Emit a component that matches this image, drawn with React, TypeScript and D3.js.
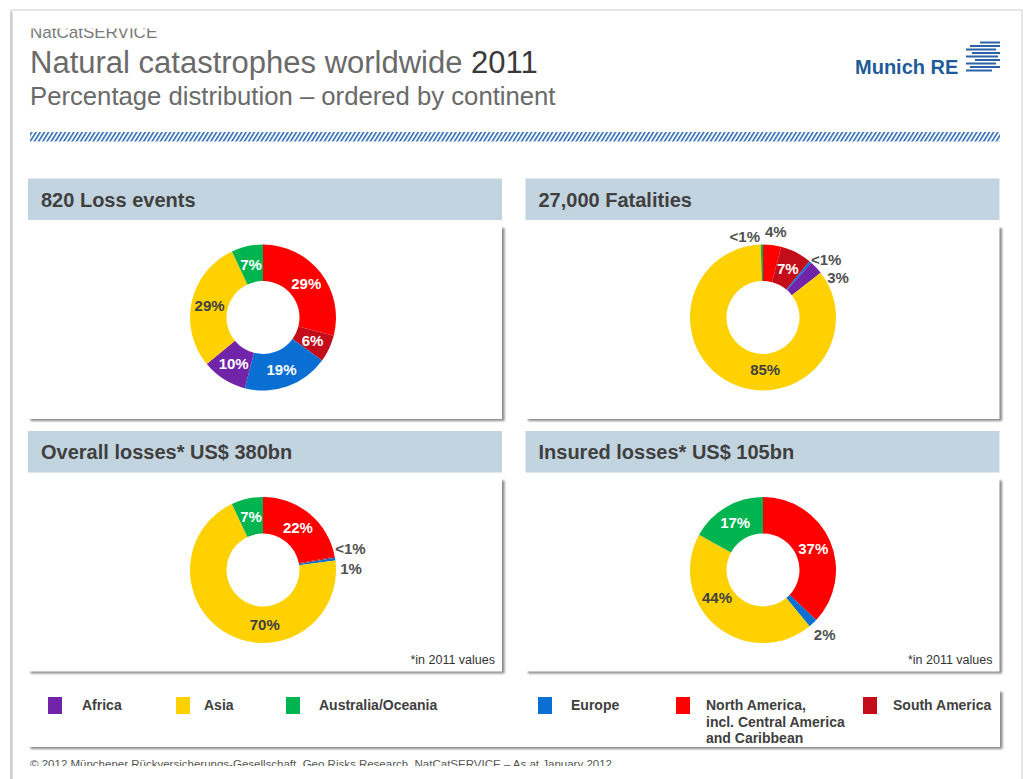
import React from "react";
import * as d3 from "d3";

// ---------- DATA ----------
// Slice order (clockwise from 12 o'clock)
const sliceOrder = ["North America", "South America", "Europe", "Africa", "Asia", "Australia/Oceania"];

const lossEvents = [29, 6, 19, 10, 29, 7];
const lossEventsLabels = ["29%", "6%", "19%", "10%", "29%", "7%"];

const fatalities = [4, 7, 0.5, 3, 85, 0.5];
const fatalitiesLabels = ["4%", "7%", "<1%", "3%", "85%", "<1%"];

const overallLosses = [22, 0.3, 0.6, 0, 70, 7];
const overallLossesLabels = ["22%", "<1%", "1%", "", "70%", "7%"];

const insuredLosses = [37, 0, 2, 0, 44, 17];
const insuredLossesLabels = ["37%", "", "2%", "", "44%", "17%"];

const panelTitles = ["820 Loss events", "27,000 Fatalities", "Overall losses* US$ 380bn", "Insured losses* US$ 105bn"];
const panelNotes = ["", "", "*in 2011 values", "*in 2011 values"];

const legendKeys = ["Africa", "Asia", "Australia/Oceania", "Europe", "North America", "South America"];
const legendLines = [
  ["Africa"],
  ["Asia"],
  ["Australia/Oceania"],
  ["Europe"],
  ["North America,", "incl. Central America", "and Caribbean"],
  ["South America"],
];

// ---------- STYLE / LAYOUT ----------
const W = 1025;
const H = 779;
const FONT = "'Liberation Sans', Arial, Helvetica, sans-serif";

const colors: Record<string, string> = {
  "North America": "#ff0000",
  "South America": "#c40d1a",
  Europe: "#0a6fd2",
  Africa: "#7124a8",
  Asia: "#ffd100",
  "Australia/Oceania": "#00b44f",
};

const panels = [
  { x: 28, y: 178.5, w: 474 },
  { x: 525.5, y: 178.5, w: 474 },
  { x: 28, y: 431, w: 474 },
  { x: 525.5, y: 431, w: 474 },
];
const HEADER_H = 41.5;
const BODY_H = 199;

// label placement overrides: [angleDeg, radius, outside]
type Place = { a: number; r: number; out: boolean };
const placements: Record<number, Record<number, Place>> = {
  1: {
    0: { a: 8.5, r: 87, out: true },
    2: { a: 47.3, r: 86, out: true },
    3: { a: 62, r: 85, out: true },
    4: { a: 177.6, r: 52, out: false },
    5: { a: 347.4, r: 83.5, out: true },
  },
  2: {
    1: { a: 76.1, r: 90, out: true },
    2: { a: 89.3, r: 88, out: true },
    4: { a: 178.2, r: 55, out: false },
  },
  3: {
    2: { a: 136.3, r: 89.3, out: true },
    4: { a: 239.4, r: 53.4, out: false },
  },
};

const datasets = [
  { values: lossEvents, labels: lossEventsLabels },
  { values: fatalities, labels: fatalitiesLabels },
  { values: overallLosses, labels: overallLossesLabels },
  { values: insuredLosses, labels: insuredLossesLabels },
];

const legendLayout = [
  { sx: 48, tx: 82 },
  { sx: 176, tx: 204 },
  { sx: 286, tx: 319 },
  { sx: 538, tx: 571 },
  { sx: 676, tx: 706 },
  { sx: 863, tx: 893 },
];

const INNER = 36.5;
const OUTER = 73;

function Donut({ idx, cx, cy }: { idx: number; cx: number; cy: number }) {
  const { values, labels } = datasets[idx];
  const pie = d3
    .pie<number>()
    .sort(null)
    .value((d) => d);
  const arcs = pie(values);
  const arc = d3.arc<d3.PieArcDatum<number>>().innerRadius(INNER).outerRadius(OUTER);
  const over = placements[idx] || {};
  return (
    <g transform={`translate(${cx},${cy})`}>
      {arcs.map((a, i) =>
        a.value > 0 ? (
          <path key={"s" + i} d={arc(a) || ""} fill={colors[sliceOrder[i]]} />
        ) : null
      )}
      {arcs.map((a, i) => {
        const lab = labels[i];
        if (!lab) return null;
        let x: number, y: number, out = false;
        const p = over[i];
        if (p) {
          const rad = (p.a * Math.PI) / 180;
          x = p.r * Math.sin(rad);
          y = -p.r * Math.cos(rad);
          out = p.out;
        } else {
          [x, y] = arc.centroid(a);
        }
        const fill = out ? "#505050" : sliceOrder[i] === "Asia" ? "#404040" : "#ffffff";
        return (
          <text
            key={"l" + i}
            x={x}
            y={y}
            textAnchor="middle"
            dominantBaseline="central"
            fontFamily={FONT}
            fontWeight="bold"
            fontSize={15}
            fill={fill}
          >
            {lab}
          </text>
        );
      })}
    </g>
  );
}

function Logo() {
  const stripes = [
    [980, 1000, 42.5],
    [970, 1000, 46],
    [966, 996, 49.5],
    [972, 1000, 53],
    [966, 998, 56.5],
    [975, 1000, 60],
    [966, 996, 63.5],
    [970, 1000, 67],
    [966, 992, 70.5],
  ];
  return (
    <g>
      <text x={855} y={73.5} fontFamily={FONT} fontWeight="bold" fontSize={20} fill="#1f5b9a">
        Munich RE
      </text>
      {stripes.map((s, i) => (
        <rect key={i} x={s[0]} y={s[2] - 1} width={s[1] - s[0]} height={2} fill="#2c63a6" />
      ))}
    </g>
  );
}

export default function App() {
  return (
    <svg
      width={W}
      height={H}
      viewBox={`0 0 ${W} ${H}`}
      style={{ position: "absolute", left: 0, top: 0, background: "#fff" }}
    >
      <defs>
        <pattern
          id="hatch"
          width={4.2}
          height={10}
          patternUnits="userSpaceOnUse"
          patternTransform="skewX(-32)"
        >
          <rect x={0} y={0} width={2} height={10} fill="#3a74ba" />
        </pattern>
        <filter id="blur" x="-5%" y="-5%" width="110%" height="110%">
          <feGaussianBlur stdDeviation={1.2} />
        </filter>
        <clipPath id="cardClip">
          <rect x={0} y={28.5} width={W} height={766 - 28.5} />
        </clipPath>
      </defs>

      <rect x={0} y={0} width={W} height={H} fill="#ffffff" />
      {/* card border */}
      <rect x={11} y={10} width={1011} height={H} fill="#ffffff" stroke="#cfcfcf" strokeWidth={1} />
      <rect x={10.5} y={12} width={2} height={H} fill="#b8b8b8" filter="url(#blur)" />

      <g clipPath="url(#cardClip)">
        <text x={30} y={37.5} fontFamily={FONT} fontSize={17} fill="#7a7a7a">
          NatCatSERVICE
        </text>
        <text x={30} y={73} fontFamily={FONT} fontSize={31} fill="#6a6a6a">
          Natural catastrophes worldwide <tspan fill="#3a3a3a">2011</tspan>
        </text>
        <text x={30} y={104.5} fontFamily={FONT} fontSize={25.7} fill="#6a6a6a">
          Percentage distribution – ordered by continent
        </text>
        <Logo />
        <rect x={30} y={132} width={970} height={9.5} fill="url(#hatch)" />

        {panels.map((p, i) => {
          const bodyTop = p.y + HEADER_H;
          return (
            <g key={i}>
              <rect
                x={p.x + 2.5}
                y={bodyTop + 8}
                width={p.w}
                height={BODY_H - 6}
                fill="#8a8a8a"
                filter="url(#blur)"
              />
              <rect x={p.x} y={bodyTop} width={p.w} height={BODY_H} fill="#ffffff" />
              <rect x={p.x} y={p.y} width={p.w} height={HEADER_H} fill="#c2d4df" />
              <text
                x={p.x + 13}
                y={p.y + 28}
                fontFamily={FONT}
                fontWeight="bold"
                fontSize={20}
                fill="#404040"
              >
                {panelTitles[i]}
              </text>
              {panelNotes[i] ? (
                <text
                  x={p.x + p.w - 7}
                  y={bodyTop + BODY_H - 8}
                  textAnchor="end"
                  fontFamily={FONT}
                  fontSize={12.5}
                  fill="#333"
                >
                  {panelNotes[i]}
                </text>
              ) : null}
              <Donut idx={i} cx={p.x + p.w / 2 + (i % 2 === 0 ? -2 : 0.5)} cy={p.y + 139} />
            </g>
          );
        })}

        {/* legend */}
        <rect x={30.5} y={692} width={972} height={57} fill="#8a8a8a" filter="url(#blur)" />
        <rect x={28} y={685} width={972} height={62} fill="#ffffff" />
        {legendKeys.map((k, i) => (
          <g key={k}>
            <rect x={legendLayout[i].sx} y={697} width={14} height={17} fill={colors[k]} />
            {legendLines[i].map((line, j) => (
              <text
                key={j}
                x={legendLayout[i].tx}
                y={710 + j * 16.5}
                fontFamily={FONT}
                fontWeight="bold"
                fontSize={14}
                fill="#404040"
              >
                {line}
              </text>
            ))}
          </g>
        ))}

        <text x={30} y={768} fontFamily={FONT} fontSize={11.5} fill="#555" textLength={582} lengthAdjust="spacingAndGlyphs">
          © 2012 Münchener Rückversicherungs-Gesellschaft, Geo Risks Research, NatCatSERVICE – As at January 2012
        </text>
      </g>
    </svg>
  );
}
